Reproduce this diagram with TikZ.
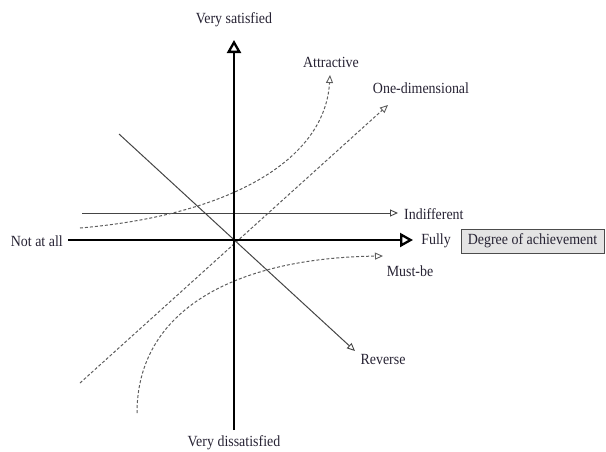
\documentclass[tikz,border=0pt]{standalone}
\usepackage{fontspec}
\setmainfont{Liberation Serif}[FakeStretch=0.9]
\usetikzlibrary{arrows.meta}
\definecolor{linegray}{HTML}{454545}
\definecolor{dashgray}{HTML}{5E5E5E}
\definecolor{boxgray}{HTML}{E4E4E4}
\definecolor{txt}{HTML}{262233}
\tikzset{
  axis/.style={line width=2.6pt, black, -{Triangle[open,length=13pt,width=14pt,line width=2.3pt]}},
  thinarrow/.style={linegray, line width=1pt, -{Triangle[open,length=8pt,width=7pt,line width=0.9pt]}},
  dasharrow/.style={dashgray, line width=1pt, dash pattern=on 3pt off 2pt, -{Triangle[open,length=8pt,width=7pt,line width=0.9pt]}},
  lab/.style={inner sep=0pt, text=txt, font=\fontsize{15.5}{17}\selectfont},
}
\begin{document}
\begin{tikzpicture}[x=1pt,y=-1pt]
\useasboundingbox (0,0) rectangle (606,451);
% coordinates
\coordinate (O) at (234,240);
\coordinate (ytop) at (234,40);
\coordinate (ybot) at (234,430);
\coordinate (xleft) at (68,240);
\coordinate (xright) at (413,240);
\coordinate (indS) at (82,213);
\coordinate (indE) at (398,213);
\coordinate (revS) at (119,134);
\coordinate (revE) at (355,351);
\coordinate (oneS) at (80,383);
\coordinate (oneE) at (388,105);
\coordinate (attS) at (80,228);
\coordinate (attE) at (330,75);
\coordinate (mustS) at (137,413);
\coordinate (mustE) at (383,256);
% labels
\node[lab] (vs) at (234,20) {Very satisfied};
\node[lab] (vd) at (234,443) {Very dissatisfied};
\node[lab, anchor=east] (naa) at (63,241) {Not at all};
\node[lab] (fully) at (436,241) {Fully};
\node[lab, draw=black!70, fill=boxgray, line width=0.6pt, minimum width=143pt, minimum height=24pt] (doa) at (532.5,241) {Degree of achievement};
\node[lab] (attl) at (331,62) {Attractive};
\node[lab] (onel) at (421,88) {One-dimensional};
\node[lab, anchor=west] (indl) at (404,214) {Indifferent};
\node[lab] (mustl) at (410,271) {Must-be};
\node[lab] (revl) at (383,359) {Reverse};
% curves and lines
\draw[thinarrow] (indS) -- (indE);
\draw[thinarrow] (revS) -- (revE);
\draw[dasharrow] (oneS) -- (oneE);
\draw[dasharrow] (attS) .. controls (230,215) and (325,160) .. (attE);
\draw[dasharrow] (mustS) .. controls (137,310) and (235,258) .. (mustE);
% axes
\draw[axis] (ybot) -- (ytop);
\draw[axis] (xleft) -- (xright);
\end{tikzpicture}
\end{document}
